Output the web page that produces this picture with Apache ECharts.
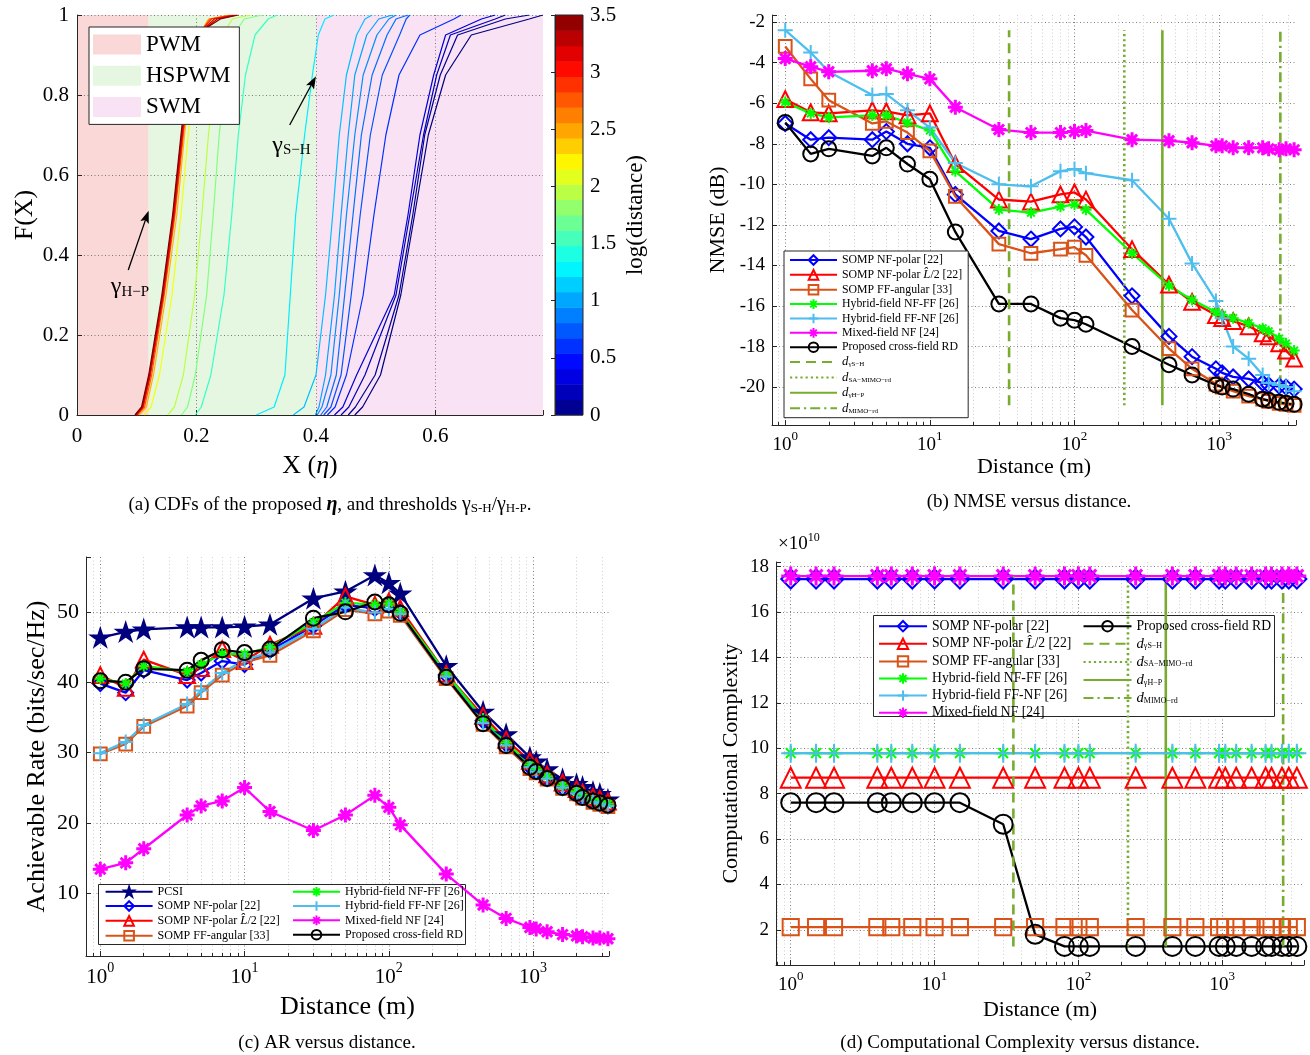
<!DOCTYPE html>
<html><head><meta charset="utf-8"><title>Cross-field figure</title>
<script src="https://cdn.jsdelivr.net/npm/echarts@6/dist/echarts.min.js"></script>
<style>html,body{margin:0;padding:0;background:#fff;}#main{width:1310px;height:1055px;}</style>
</head><body><div id="main"></div>
<script>
// ================= DATA =================
const distances = [1, 1.5, 2, 4, 5, 7, 10, 15, 30, 50, 80, 100, 120, 250, 450, 650, 950, 1050, 1250, 1600, 2000, 2200, 2600, 2900, 3300];

// (b) NMSE (dB)
const nmseNfPolar     = [-7.0, -7.8, -7.7, -7.8, -7.4, -8.0, -8.2, -10.5, -12.3, -12.7, -12.2, -12.1, -12.6, -15.5, -17.5, -18.5, -19.1, -19.3, -19.5, -19.6, -19.8, -19.9, -19.95, -20.0, -20.1];
const nmseNfPolarHalf = [-5.8, -6.45, -6.5, -6.35, -6.4, -6.6, -6.5, -9.0, -10.75, -10.85, -10.5, -10.4, -10.75, -13.2, -14.95, -15.8, -16.45, -16.6, -16.75, -17.0, -17.35, -17.5, -17.85, -18.2, -18.6];
const nmseFfAngular   = [-3.2, -4.8, -5.85, -7.0, -6.9, -7.45, -8.35, -10.6, -12.95, -13.4, -13.2, -13.1, -13.5, -16.2, -18.1, -19.1, -19.85, -20.0, -20.2, -20.45, -20.6, -20.7, -20.8, -20.85, -20.9];
const nmseHybridNfFf  = [-5.95, -6.5, -6.7, -6.6, -6.6, -6.95, -7.35, -9.35, -11.25, -11.4, -11.1, -11.0, -11.25, -13.4, -15.0, -15.7, -16.3, -16.45, -16.6, -16.85, -17.1, -17.25, -17.6, -17.85, -18.2];
const nmseHybridFfNf  = [-2.4, -3.5, -4.45, -5.6, -5.55, -6.35, -7.2, -8.95, -10.0, -10.1, -9.35, -9.25, -9.45, -9.8, -11.7, -13.9, -15.75, -16.6, -18.0, -18.6, -19.4, -19.8, -19.9, -20.0, -20.2];
const nmseMixedNf     = [-3.8, -4.2, -4.45, -4.4, -4.3, -4.55, -4.8, -6.2, -7.3, -7.45, -7.45, -7.4, -7.35, -7.8, -7.85, -7.95, -8.1, -8.1, -8.2, -8.2, -8.2, -8.25, -8.3, -8.25, -8.3];
const nmseProposed    = [-6.95, -8.5, -8.25, -8.6, -8.2, -9.0, -9.75, -12.35, -15.9, -15.9, -16.6, -16.7, -16.9, -18.0, -18.9, -19.4, -19.9, -20.0, -20.1, -20.35, -20.6, -20.65, -20.75, -20.8, -20.85];

// (c) Achievable rate (bits/sec/Hz)
const arPcsi          = [46.35, 47.15, 47.5, 47.8, 47.8, 47.8, 47.9, 48.2, 51.9, 52.9, 55.2, 54.1, 52.6, 42.3, 35.8, 32.6, 29.3, 28.7, 27.6, 26.2, 25.5, 25.1, 24.4, 24.1, 23.3];
const arNfPolar       = [39.8, 38.5, 41.7, 40.3, 41.3, 43.0, 42.5, 44.5, 48.0, 51.0, 50.5, 51.0, 50.0, 41.0, 34.5, 31.2, 28.0, 27.3, 26.3, 25.0, 24.2, 23.7, 23.0, 22.7, 22.4];
const arNfPolarHalf   = [41.0, 39.2, 43.2, 41.0, 42.0, 44.7, 43.0, 45.3, 48.0, 52.2, 51.0, 51.5, 50.5, 41.2, 35.2, 31.8, 28.8, 28.0, 26.9, 25.7, 24.8, 24.3, 23.7, 23.4, 23.0];
const arFfAngular     = [29.8, 31.2, 33.7, 36.6, 38.5, 41.0, 42.8, 43.8, 47.3, 50.3, 49.7, 50.1, 49.5, 40.5, 34.0, 30.8, 27.7, 27.1, 26.2, 24.9, 24.1, 23.5, 22.9, 22.6, 22.3];
const arHybridNfFf    = [40.5, 39.8, 42.3, 41.5, 42.5, 44.0, 44.0, 45.0, 48.5, 51.3, 51.0, 51.2, 50.0, 41.2, 34.8, 31.4, 28.3, 27.6, 26.6, 25.3, 24.5, 24.0, 23.3, 23.0, 22.7];
const arHybridFfNf    = [29.9, 31.5, 33.9, 36.9, 38.8, 41.3, 43.2, 44.2, 47.6, 50.6, 49.9, 50.4, 49.7, 40.8, 34.2, 31.0, 27.9, 27.3, 26.3, 25.0, 24.2, 23.6, 23.0, 22.7, 22.4];
const arMixedNf       = [13.4, 14.3, 16.3, 21.1, 22.4, 23.1, 25.0, 21.6, 18.9, 21.1, 23.9, 22.2, 19.7, 12.7, 8.3, 6.4, 5.1, 4.9, 4.5, 4.1, 3.9, 3.8, 3.6, 3.6, 3.5];
const arProposed      = [40.2, 40.0, 41.9, 41.7, 43.1, 44.6, 44.2, 44.7, 49.1, 50.0, 51.4, 51.0, 49.8, 40.7, 34.1, 31.0, 27.9, 27.3, 26.3, 25.0, 24.2, 23.6, 23.1, 22.8, 22.5];

// (d) Computational complexity, in units of 1e10
const ccNfPolar       = [17.45, 17.45, 17.45, 17.45, 17.45, 17.45, 17.45, 17.45, 17.45, 17.45, 17.45, 17.45, 17.45, 17.45, 17.45, 17.45, 17.45, 17.45, 17.45, 17.45, 17.45, 17.45, 17.45, 17.45, 17.45];
const ccNfPolarHalf   = [8.7, 8.7, 8.7, 8.7, 8.7, 8.7, 8.7, 8.7, 8.7, 8.7, 8.7, 8.7, 8.7, 8.7, 8.7, 8.7, 8.7, 8.7, 8.7, 8.7, 8.7, 8.7, 8.7, 8.7, 8.7];
const ccFfAngular     = [2.12, 2.12, 2.12, 2.12, 2.12, 2.12, 2.12, 2.12, 2.12, 2.12, 2.12, 2.12, 2.12, 2.12, 2.12, 2.12, 2.12, 2.12, 2.12, 2.12, 2.12, 2.12, 2.12, 2.12, 2.12];
const ccHybridNfFf    = [9.78, 9.78, 9.78, 9.78, 9.78, 9.78, 9.78, 9.78, 9.78, 9.78, 9.78, 9.78, 9.78, 9.78, 9.78, 9.78, 9.78, 9.78, 9.78, 9.78, 9.78, 9.78, 9.78, 9.78, 9.78];
const ccHybridFfNf    = [9.78, 9.78, 9.78, 9.78, 9.78, 9.78, 9.78, 9.78, 9.78, 9.78, 9.78, 9.78, 9.78, 9.78, 9.78, 9.78, 9.78, 9.78, 9.78, 9.78, 9.78, 9.78, 9.78, 9.78, 9.78];
const ccMixedNf       = [17.58, 17.58, 17.58, 17.58, 17.58, 17.58, 17.58, 17.58, 17.58, 17.58, 17.58, 17.58, 17.58, 17.58, 17.58, 17.58, 17.58, 17.58, 17.58, 17.58, 17.58, 17.58, 17.58, 17.58, 17.58];
const ccProposed      = [7.6, 7.6, 7.6, 7.6, 7.6, 7.6, 7.6, 7.6, 6.65, 1.8, 1.27, 1.27, 1.27, 1.27, 1.27, 1.27, 1.27, 1.27, 1.27, 1.27, 1.27, 1.27, 1.27, 1.27, 1.27];

// threshold distances (m)
const thresholdNames = ['dSH', 'dSA', 'dHP', 'dMIMO'];
const thresholdDistances = [35.3, 221, 405, 2650];

// (a) CDFs of eta: eta values at the CDF levels below, one curve per log10(distance)
const cdfLevels = [0, 0.02, 0.1, 0.3, 0.5, 0.7, 0.85, 0.95, 0.99, 1];
const cdfLogDistance = [0.0, 0.08, 0.18, 0.3, 0.6, 0.72, 0.82, 0.92, 1.0, 1.1, 1.25, 1.5, 1.75, 1.95, 2.15, 2.45, 2.75, 2.95, 3.15, 3.3, 3.5];
const cdfEta = [
  [0.465, 0.478, 0.508, 0.542, 0.565, 0.588, 0.617, 0.660, 0.757, 0.780],
  [0.454, 0.466, 0.499, 0.539, 0.562, 0.582, 0.608, 0.637, 0.717, 0.757],
  [0.442, 0.455, 0.482, 0.534, 0.557, 0.580, 0.602, 0.625, 0.700, 0.717],
  [0.431, 0.445, 0.468, 0.531, 0.554, 0.574, 0.597, 0.617, 0.677, 0.700],
  [0.419, 0.432, 0.451, 0.479, 0.497, 0.517, 0.539, 0.574, 0.631, 0.643],
  [0.413, 0.425, 0.442, 0.459, 0.474, 0.491, 0.511, 0.540, 0.551, 0.557],
  [0.408, 0.418, 0.434, 0.448, 0.462, 0.476, 0.494, 0.519, 0.534, 0.554],
  [0.402, 0.410, 0.425, 0.439, 0.451, 0.465, 0.479, 0.502, 0.522, 0.534],
  [0.399, 0.405, 0.416, 0.431, 0.442, 0.454, 0.465, 0.485, 0.505, 0.528],
  [0.362, 0.380, 0.400, 0.416, 0.428, 0.439, 0.451, 0.468, 0.482, 0.494],
  [0.300, 0.330, 0.348, 0.357, 0.366, 0.381, 0.394, 0.404, 0.415, 0.430],
  [0.198, 0.208, 0.224, 0.246, 0.259, 0.270, 0.282, 0.298, 0.320, 0.335],
  [0.175, 0.185, 0.198, 0.217, 0.228, 0.238, 0.250, 0.262, 0.280, 0.310],
  [0.152, 0.163, 0.178, 0.197, 0.209, 0.220, 0.231, 0.244, 0.260, 0.290],
  [0.112, 0.124, 0.138, 0.159, 0.174, 0.186, 0.197, 0.212, 0.230, 0.260],
  [0.104, 0.116, 0.128, 0.149, 0.167, 0.180, 0.191, 0.205, 0.220, 0.255],
  [0.101, 0.113, 0.125, 0.146, 0.164, 0.178, 0.189, 0.203, 0.222, 0.258],
  [0.100, 0.111, 0.123, 0.145, 0.163, 0.177, 0.188, 0.202, 0.225, 0.262],
  [0.099, 0.110, 0.122, 0.144, 0.162, 0.176, 0.187, 0.201, 0.230, 0.265],
  [0.098, 0.109, 0.121, 0.143, 0.161, 0.175, 0.186, 0.200, 0.235, 0.268],
  [0.097, 0.108, 0.120, 0.142, 0.160, 0.174, 0.185, 0.198, 0.240, 0.270]
];
const regionNames = ['PWM', 'HSPWM', 'SWM'];
const regionEdges = [0, 0.12, 0.4, 0.78];
const annotLabels = ['γ|H−P', 'γ|S−H'];
const annotTail = [[0.0858, 0.3625], [0.356, 0.725]];
const annotHead = [[0.1165, 0.496], [0.395, 0.833]];
const annotTextAt = [[0.0886, 0.322], [0.359, 0.675]];
const colorbarMax = 3.5;
const colorbarBands = 26;

// ================= STYLE / BUILD =================
const FONT = "'Liberation Serif', 'Times New Roman', serif";
const AXC = '#262626';
const THR_COLOR = '#77AC30';
const STAR = 'path://M5,0L6.117,3.463L9.755,3.455L6.807,5.587L7.939,9.045L5,6.9L2.061,9.045L3.193,5.587L0.245,3.455L3.883,3.463Z';
const PLUS = 'path://M5,0L5,10M0,5L10,5';
const AST = 'path://M5,0L5,10M0,5L10,5M1.6,1.6L8.4,8.4M8.4,1.6L1.6,8.4';
const ARROW = 'path://M5,0L10,14L5,11L0,14Z';
const ST = {
  pcsi:   {color: '#00007F', symbol: STAR, fill: true, k: 1.2},
  nfPolar:{color: '#0000FF', symbol: 'diamond', k: 1.0},
  half:   {color: '#FF0000', symbol: 'triangle', k: 1.05},
  ff:     {color: '#D95319', symbol: 'rect', k: 0.85},
  nfff:   {color: '#00FF00', symbol: AST, k: 0.75},
  ffnf:   {color: '#4DBEEE', symbol: PLUS, k: 1.0},
  mixed:  {color: '#FF00FF', symbol: AST, k: 1.0, bw: 3},
  rd:     {color: '#000000', symbol: 'circle', k: 1.0}
};
const NAMES = {
  pcsi: 'PCSI', nfPolar: 'SOMP NF-polar [22]', half: 'SOMP NF-polar L/2 [22]', ff: 'SOMP FF-angular [33]',
  nfff: 'Hybrid-field NF-FF [26]', ffnf: 'Hybrid-field FF-NF [26]', mixed: 'Mixed-field NF [24]', rd: 'Proposed cross-field RD'
};
const THR_DASH = [[10, 6], [2.2, 3], 'solid', [10, 4, 2.2, 4]];

function jet(t) {
  t = Math.min(1, Math.max(0, t));
  const f = v => Math.round(255 * Math.min(1, Math.max(0, v)));
  return 'rgb(' + f(1.5 - Math.abs(4 * t - 3)) + ',' + f(1.5 - Math.abs(4 * t - 2)) + ',' + f(1.5 - Math.abs(4 * t - 1)) + ')';
}

function curve(key, g, ys, size) {
  const s = ST[key];
  return {
    type: 'line', name: NAMES[key], xAxisIndex: g, yAxisIndex: g,
    data: distances.map((d, i) => [d, ys[i]]),
    symbol: s.symbol, symbolSize: size * s.k, symbolKeepAspect: true, showSymbol: true, showAllSymbol: true,
    lineStyle: {color: s.color, width: 2.3},
    itemStyle: {color: s.fill ? s.color : 'transparent', borderColor: s.color, borderWidth: s.bw || 2},
    emphasis: {disabled: true}, silent: true, animation: false, clip: false
  };
}
function thrSeries(g, k, lo, hi) {
  return {
    type: 'line', name: thresholdNames[k], xAxisIndex: g, yAxisIndex: g,
    data: [[thresholdDistances[k], lo], [thresholdDistances[k], hi]],
    symbol: 'circle', symbolSize: 0, showSymbol: false,
    lineStyle: {color: THR_COLOR, width: 2.6, type: THR_DASH[k]},
    itemStyle: {color: 'transparent', borderColor: 'transparent', borderWidth: 0},
    emphasis: {disabled: true}, silent: true, animation: false
  };
}

const logFmt = v => {
  const e = Math.round(Math.log10(v));
  return Math.abs(v - Math.pow(10, e)) < 1e-6 * v ? '{b|10}{e|' + e + '}' : '';
};
const stepFmt = step => v => {
  const r = v / step;
  return Math.abs(r - Math.round(r)) < 1e-6 ? String(+v.toFixed(3)) : '';
};

function logAxis(g, min, max, fs, nameFs, nameGap) {
  return {
    type: 'log', gridIndex: g, min, max, logBase: 10,
    axisLine: {show: true, onZero: false, lineStyle: {color: AXC, width: 1}},
    axisTick: {show: true, inside: true, length: 5, lineStyle: {color: AXC}},
    minorTick: {show: true, splitNumber: 9, length: 3, lineStyle: {color: AXC}},
    splitLine: {show: true, showMinLine: false, showMaxLine: false, lineStyle: {color: '#808080', width: 1, type: [1, 2.5]}},
    minorSplitLine: {show: true, lineStyle: {color: '#cfcfcf', width: 1, type: [1, 2.5]}},
    axisLabel: {
      margin: 5, color: '#000', formatter: logFmt,
      rich: {
        b: {fontSize: fs, fontFamily: FONT, color: '#000', verticalAlign: 'bottom', lineHeight: fs + 6},
        e: {fontSize: Math.round(fs * 0.66), fontFamily: FONT, color: '#000', verticalAlign: 'top', lineHeight: Math.round(fs * 0.66)}
      }
    },
    name: 'Distance (m)', nameLocation: 'middle', nameGap,
    nameTextStyle: {fontFamily: FONT, fontSize: nameFs, color: '#000'}
  };
}
function valAxis(g, min, max, step, fs, name, nameFs, nameGap, extra) {
  return Object.assign({
    type: 'value', gridIndex: g, min, max, splitNumber: Math.round((max - min) / step),
    axisLine: {show: true, onZero: false, lineStyle: {color: AXC, width: 1}},
    axisTick: {show: true, inside: true, length: 5, lineStyle: {color: AXC}},
    splitLine: {show: true, showMinLine: false, showMaxLine: false, lineStyle: {color: '#808080', width: 1, type: [1, 2.5]}},
    axisLabel: {margin: 7, color: '#000', fontFamily: FONT, fontSize: fs, formatter: stepFmt(step)},
    name, nameLocation: 'middle', nameGap, nameRotate: 90,
    nameTextStyle: {fontFamily: FONT, fontSize: nameFs, color: '#000'}
  }, extra || {});
}

const allNmse = [nmseNfPolar, nmseNfPolarHalf, nmseFfAngular, nmseHybridNfFf, nmseHybridFfNf, nmseMixedNf, nmseProposed];
const allCc = [ccNfPolar, ccNfPolarHalf, ccFfAngular, ccHybridNfFf, ccHybridFfNf, ccMixedNf, ccProposed];
const nmseLo = Math.min(...allNmse.flat()), nmseHi = Math.max(...allNmse.flat());
const ccLo = Math.min(...allCc.flat()), ccHi = Math.max(...allCc.flat());

const series = [];
// ---- panel (a): regions
const regionColors = ['#F9D8D7', '#E5F7E1', '#F8E2F3'];
regionNames.forEach((nm, i) => {
  series.push({
    type: 'custom', name: nm, xAxisIndex: 0, yAxisIndex: 0, z: -1, silent: true, animation: false,
    itemStyle: {color: regionColors[i]},
    data: [[regionEdges[i], regionEdges[i + 1]]],
    renderItem: (params, api) => {
      const p0 = api.coord([api.value(0), 0]);
      const p1 = api.coord([api.value(1), 1]);
      return {type: 'rect', shape: {x: p0[0], y: p1[1], width: p1[0] - p0[0], height: p0[1] - p1[1]}, style: {fill: regionColors[i]}};
    }
  });
});
// ---- panel (a): CDF curves
cdfEta.forEach((etas, i) => {
  series.push({
    type: 'line', name: 'cdf' + i, xAxisIndex: 0, yAxisIndex: 0,
    data: etas.map((x, k) => [x, cdfLevels[k]]),
    showSymbol: false, symbol: 'none',
    lineStyle: {color: jet(cdfLogDistance[i] / colorbarMax), width: 1.2},
    emphasis: {disabled: true}, silent: true, animation: false
  });
});
// ---- panel (a): annotations
series.push({
  type: 'line', name: 'annot', xAxisIndex: 0, yAxisIndex: 0, data: [], silent: true, animation: false, z: 5,
  markLine: {
    silent: true, animation: false, symbol: ['none', ARROW], symbolSize: [9, 13], symbolKeepAspect: true,
    lineStyle: {color: '#000', width: 1.3, type: 'solid'}, itemStyle: {color: '#000'}, label: {show: false},
    emphasis: {disabled: true},
    data: annotTail.map((t, i) => [{coord: t}, {coord: annotHead[i]}])
  },
  markPoint: {
    silent: true, animation: false, symbol: 'circle', symbolSize: 0,
    label: {
      show: true, position: 'inside', color: '#000',
      formatter: p => { const s = p.name.split('|'); return '{g|' + s[0] + '}{s|' + s[1] + '}'; },
      rich: {
        g: {fontFamily: FONT, fontSize: 24, color: '#000', verticalAlign: 'bottom', lineHeight: 26},
        s: {fontFamily: FONT, fontSize: 15, color: '#000', verticalAlign: 'bottom', lineHeight: 14}
      }
    },
    data: annotLabels.map((l, i) => ({name: l, coord: annotTextAt[i]}))
  }
});
// ---- colorbar
series.push({
  type: 'custom', name: 'colorbar', xAxisIndex: 1, yAxisIndex: 1, z: -1, silent: true, animation: false, clip: false,
  data: Array.from({length: colorbarBands}, (_, i) => [i]),
  renderItem: (params, api) => {
    const i = api.value(0);
    const step = colorbarMax / colorbarBands;
    const p0 = api.coord([0, i * step]);
    const p1 = api.coord([1, (i + 1) * step]);
    return {type: 'rect', shape: {x: p0[0], y: p1[1], width: p1[0] - p0[0], height: p0[1] - p1[1] + 0.5}, style: {fill: jet((i + 0.5) / colorbarBands)}};
  }
});
// ---- panel (b)
const SB = 15;
series.push(curve('nfPolar', 2, nmseNfPolar, SB), curve('half', 2, nmseNfPolarHalf, SB), curve('ff', 2, nmseFfAngular, SB),
  curve('nfff', 2, nmseHybridNfFf, SB), curve('ffnf', 2, nmseHybridFfNf, SB), curve('mixed', 2, nmseMixedNf, SB), curve('rd', 2, nmseProposed, SB));
thresholdNames.forEach((n, k) => series.push(thrSeries(2, k, nmseLo, nmseHi)));
// ---- panel (c)
const SC = 15;
series.push(curve('pcsi', 3, arPcsi, SC), curve('nfPolar', 3, arNfPolar, SC), curve('half', 3, arNfPolarHalf, SC), curve('ff', 3, arFfAngular, SC),
  curve('nfff', 3, arHybridNfFf, SC), curve('ffnf', 3, arHybridFfNf, SC), curve('mixed', 3, arMixedNf, SC), curve('rd', 3, arProposed, SC));
// ---- panel (d)
const SD = 19;
series.push(curve('nfPolar', 4, ccNfPolar, SD), curve('half', 4, ccNfPolarHalf, SD), curve('ff', 4, ccFfAngular, SD),
  curve('nfff', 4, ccHybridNfFf, SD), curve('ffnf', 4, ccHybridFfNf, SD), curve('mixed', 4, ccMixedNf, SD), curve('rd', 4, ccProposed, SD));
thresholdNames.forEach((n, k) => series.push(thrSeries(4, k, ccLo, ccHi)));

// ---- legends
const LEG_LABEL = {
  'SOMP NF-polar L/2 [22]': '{t|SOMP NF-polar }{i|L̂}{t|/2 [22]}',
  dSH: '{i|d}{s|γS−H}', dSA: '{i|d}{s|SA−MIMO−rd}', dHP: '{i|d}{s|γH−P}', dMIMO: '{i|d}{s|MIMO−rd}'
};
function legend(left, top, names, fs, ih, gap, iw, boxed) {
  const L = {
    orient: 'vertical', left, top, data: names, z: 6,
    itemWidth: iw, itemHeight: ih, itemGap: gap, selectedMode: false,
    padding: boxed ? [3, 6, 3, 5] : 0,
    formatter: n => LEG_LABEL[n] || n,
    textStyle: {
      fontFamily: FONT, fontSize: fs, color: '#000', lineHeight: ih,
      rich: {
        t: {fontFamily: FONT, fontSize: fs, color: '#000'},
        i: {fontFamily: FONT, fontSize: fs + 1, fontStyle: 'italic', color: '#000'},
        s: {fontFamily: FONT, fontSize: Math.round(fs * 0.6), color: '#000', verticalAlign: 'bottom', lineHeight: ih - 2}
      }
    }
  };
  if (boxed) { L.borderColor = AXC; L.borderWidth = 1; L.backgroundColor = '#fff'; }
  return L;
}
const legendB = legend(784, 251, [NAMES.nfPolar, NAMES.half, NAMES.ff, NAMES.nfff, NAMES.ffnf, NAMES.mixed, NAMES.rd, 'dSH', 'dSA', 'dHP', 'dMIMO'], 11.8, 12, 2.37, 47, true);
const legendC1 = legend(104.6, 885.7, [NAMES.pcsi, NAMES.nfPolar, NAMES.half, NAMES.ff], 12, 12, 2.33, 47, false);
const legendC2 = legend(292, 885.7, [NAMES.nfff, NAMES.ffnf, NAMES.mixed, NAMES.rd], 12, 12, 2.33, 47, false);
const legendD1 = legend(878, 619.2, [NAMES.nfPolar, NAMES.half, NAMES.ff, NAMES.nfff, NAMES.ffnf, NAMES.mixed], 13.7, 13, 3.1, 48, false);
const legendD2 = legend(1082.5, 619.2, [NAMES.rd, 'dSH', 'dSA', 'dHP', 'dMIMO'], 13.7, 13, 3.1, 48, false);
const legendA = {
  orient: 'vertical', left: 89, top: 27, data: regionNames, z: 6, selectedMode: false,
  icon: 'rect', itemWidth: 48, itemHeight: 20, itemGap: 8.2, padding: [6, 9, 6, 4],
  borderColor: AXC, borderWidth: 1, backgroundColor: '#fff',
  textStyle: {fontFamily: FONT, fontSize: 23, color: '#000', lineHeight: 20}
};

const capRich = {
  t: {fontFamily: FONT, fontSize: 19, color: '#000', verticalAlign: 'bottom', lineHeight: 24},
  bi: {fontFamily: FONT, fontSize: 20, fontStyle: 'italic', fontWeight: 'bold', color: '#000', verticalAlign: 'bottom', lineHeight: 24},
  g: {fontFamily: FONT, fontSize: 20, color: '#000', verticalAlign: 'bottom', lineHeight: 24},
  s: {fontFamily: FONT, fontSize: 13, color: '#000', verticalAlign: 'bottom', lineHeight: 14}
};
function caption(x, y, text) {
  return {type: 'text', x, y, z: 10, silent: true, style: {text, align: 'center', verticalAlign: 'middle', fontFamily: FONT, fontSize: 19, fill: '#000', rich: capRich}};
}

const option = {
  animation: false,
  backgroundColor: '#fff',
  grid: [
    {left: 77, top: 15, width: 466, height: 400, containLabel: false, outerBoundsMode: 'none'},
    {left: 555, top: 15, width: 28, height: 400, containLabel: false, outerBoundsMode: 'none', show: true, borderColor: AXC, borderWidth: 1, backgroundColor: 'transparent'},
    {left: 772, top: 15, width: 524, height: 410, containLabel: false, outerBoundsMode: 'none'},
    {left: 86, top: 557, width: 523, height: 399, containLabel: false, outerBoundsMode: 'none'},
    {left: 776, top: 562, width: 528, height: 403, containLabel: false, outerBoundsMode: 'none'}
  ],
  xAxis: [
    {
      type: 'value', gridIndex: 0, min: 0, max: 0.78, interval: 0.2,
      axisLine: {show: true, onZero: false, lineStyle: {color: AXC}},
      axisTick: {show: true, inside: true, length: 5, lineStyle: {color: AXC}},
      splitLine: {show: true, showMinLine: false, showMaxLine: false, lineStyle: {color: '#7a7a7a', type: [1, 2.5]}},
      axisLabel: {margin: 11, color: '#000', fontFamily: FONT, fontSize: 21, formatter: stepFmt(0.2)},
      name: '{t|X (}{i|η}{t|)}', nameLocation: 'middle', nameGap: 38,
      nameTextStyle: {rich: {t: {fontFamily: FONT, fontSize: 26, color: '#000'}, i: {fontFamily: FONT, fontSize: 26, fontStyle: 'italic', color: '#000'}}}
    },
    {type: 'value', gridIndex: 1, min: 0, max: 1, show: false},
    logAxis(2, 0.81, 3400, 19, 22, 31),
    logAxis(3, 0.796, 3357, 21, 26, 38),
    logAxis(4, 0.79, 3700, 19, 22, 34)
  ],
  yAxis: [
    {
      type: 'value', gridIndex: 0, min: 0, max: 1, interval: 0.2,
      axisLine: {show: true, onZero: false, lineStyle: {color: AXC}},
      axisTick: {show: true, inside: true, length: 5, lineStyle: {color: AXC}},
      splitLine: {show: true, showMinLine: false, showMaxLine: true, lineStyle: {color: '#7a7a7a', type: [1, 2.5]}},
      axisLabel: {margin: 8, color: '#000', fontFamily: FONT, fontSize: 21, formatter: stepFmt(0.2)},
      name: 'F(X)', nameLocation: 'middle', nameGap: 39, nameRotate: 90,
      nameTextStyle: {fontFamily: FONT, fontSize: 26, color: '#000'}
    },
    {
      type: 'value', gridIndex: 1, min: 0, max: colorbarMax, interval: 0.5, position: 'right',
      axisLine: {show: true, lineStyle: {color: AXC}},
      axisTick: {show: true, inside: true, length: 4, lineStyle: {color: AXC}},
      splitLine: {show: false},
      axisLabel: {margin: 7, color: '#000', fontFamily: FONT, fontSize: 21, formatter: stepFmt(0.5)},
      name: 'log(distance)', nameLocation: 'middle', nameGap: 41, nameRotate: 90,
      nameTextStyle: {fontFamily: FONT, fontSize: 23, color: '#000'}
    },
    valAxis(2, -21.87, -1.65, 2, 19, 'NMSE (dB)', 22, 43),
    valAxis(3, 1.05, 57.8, 10, 22, 'Achievable Rate (bits/sec/Hz)', 26, 36),
    valAxis(4, 0.45, 18.2, 2, 19, 'Computational Complexity', 22, 34)
  ],
  legend: [legendA, legendB, legendC1, legendC2, legendD1, legendD2],
  graphic: [
    {type: 'rect', z: 3, silent: true, shape: {x: 98.5, y: 884.5, width: 367, height: 60}, style: {fill: '#fff', stroke: AXC, lineWidth: 1}},
    {type: 'rect', z: 3, silent: true, shape: {x: 873.5, y: 615.5, width: 401, height: 101}, style: {fill: '#fff', stroke: AXC, lineWidth: 1}},
    {type: 'text', x: 778, y: 543, z: 10, silent: true, style: {text: '{t|×10}{e|10}', verticalAlign: 'middle', rich: {
      t: {fontFamily: FONT, fontSize: 19, color: '#000', verticalAlign: 'bottom', lineHeight: 22},
      e: {fontFamily: FONT, fontSize: 12, color: '#000', verticalAlign: 'top', lineHeight: 12}}}},
    caption(330, 503, '{t|(a) CDFs of the proposed }{bi|η}{t|, and thresholds }{g|γ}{s|S-H}{t|/}{g|γ}{s|H-P}{t|.}'),
    caption(1029, 502, '(b) NMSE versus distance.'),
    caption(327, 1043, '(c) AR versus distance.'),
    caption(1020, 1043, '(d) Computational Complexity versus distance.')
  ],
  series
};

const chart = echarts.init(document.getElementById('main'), null, {renderer: 'canvas', width: 1310, height: 1055});
chart.setOption(option);
</script>
</body></html>
